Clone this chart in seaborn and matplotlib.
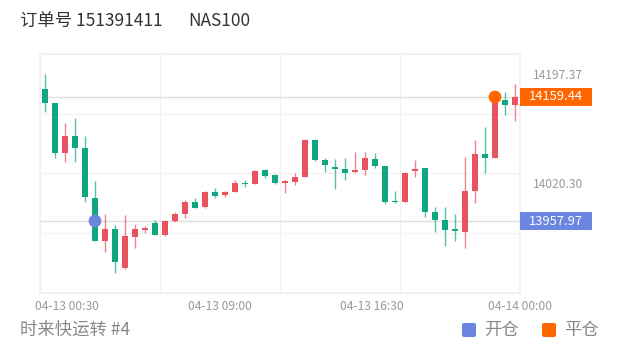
import numpy as np
import pandas as pd
import matplotlib
matplotlib.use("Agg")
import matplotlib.pyplot as plt
import matplotlib.transforms as mtransforms
from matplotlib.patches import Rectangle, FancyBboxPatch
import seaborn as sns

# candle data (30-min bars)
opens = [14172.4, 14149.7, 14068.5, 14096.1, 14076.6, 13995.3, 13925.5, 13944.9,
         13881.6, 13932.0, 13943.3, 13954.7, 13935.2, 13958.0, 13969.3, 13988.8,
         13980.7, 14005.1, 14000.2, 14005.1, 14019.7, 14018.1, 14040.8, 14032.7,
         14019.7, 14021.3, 14029.4, 14089.6, 14057.1, 14045.7, 14042.4, 14037.6,
         14040.8, 14058.7, 14047.3, 13990.4, 13988.8, 14039.2, 14044.1, 13972.6,
         13959.6, 13944.9, 13940.1, 14006.7, 14066.8, 14060.3, 14154.6, 14146.4]
highs = [14197.4, 14149.7, 14117.2, 14125.3, 14096.1, 14022.9, 13969.3, 13951.5,
         13967.7, 13953.1, 13949.8, 13959.6, 13959.6, 13972.6, 13992.1, 13995.3,
         14006.7, 14011.6, 14006.7, 14024.6, 14024.6, 14040.8, 14042.4, 14034.3,
         14024.6, 14035.9, 14091.2, 14091.2, 14060.3, 14058.7, 14060.3, 14070.1,
         14070.1, 14068.5, 14047.3, 14006.7, 14037.6, 14057.1, 14044.1, 13980.7,
         13980.7, 13969.3, 14062.0, 14089.6, 14110.7, 14159.4, 14167.6, 14180.6]
lows = [14135.1, 14060.3, 14053.8, 14053.8, 13988.8, 13925.5, 13907.6, 13873.5,
        13880.0, 13914.1, 13938.5, 13935.2, 13934.0, 13956.3, 13962.8, 13979.1,
        13979.1, 13995.3, 13996.9, 14005.1, 14013.2, 14018.1, 14027.8, 14018.1,
        14003.4, 14016.4, 14029.4, 14055.4, 14037.6, 14009.9, 14024.6, 14035.9,
        14032.7, 14044.1, 13985.6, 13987.2, 13988.8, 14029.4, 13964.4, 13940.1,
        13917.3, 13925.5, 13914.1, 13987.2, 14035.9, 14060.3, 14130.2, 14120.4]
closes = [14149.7, 14068.5, 14096.1, 14076.6, 13996.9, 13925.5, 13944.9, 13891.5,
          13933.6, 13944.9, 13946.6, 13935.2, 13958.0, 13969.3, 13988.8, 13979.1,
          14005.1, 13998.6, 14005.1, 14019.7, 14018.1, 14039.2, 14031.1, 14019.7,
          14022.9, 14029.4, 14089.6, 14057.1, 14048.9, 14042.4, 14035.9, 14040.8,
          14060.3, 14047.3, 13988.8, 13988.8, 14035.9, 14042.4, 13972.6, 13959.6,
          13943.3, 13941.7, 14006.7, 14066.8, 14060.3, 14159.44, 14146.4, 14159.44]

tick_pos = [2.2, 17.5, 32.7, 47.5]
tick_labels = ["04-13 00:30", "04-13 09:00", "04-13 16:30", "04-14 00:00"]
price_ticks = [14197.37, 14020.30]
grid_prices = [14131.8, 14035.9, 13938.5]

open_idx, open_price = 5, 13957.97
close_idx, close_price = 45, 14159.44

UP = "#e9525f"
DOWN = "#10a67f"
BLUE = "#6a86e0"
ORANGE = "#ff6600"

sns.set_theme(style="white")
plt.rcParams["font.family"] = ["Noto Sans CJK SC", "DejaVu Sans"]

df = pd.DataFrame({"open": opens, "high": highs, "low": lows, "close": closes})
df["idx"] = np.arange(len(df))
df["color"] = np.where(df["close"] >= df["open"], UP, DOWN)
df["bottom"] = df[["open", "close"]].min(axis=1)
df["height"] = (df["close"] - df["open"]).abs().clip(lower=1.8)

fig = plt.figure(figsize=(6.2, 3.52), dpi=100)
ax = fig.add_axes([40 / 620, 59 / 352, 480 / 620, 239 / 352])

# faint grid
for x in np.arange(-0.5, 48, 12):
    ax.axvline(x, color="#f2f2f2", lw=1, zorder=0)
for y in grid_prices:
    ax.axhline(y, color="#f2f2f2", lw=1, zorder=0)
for s in ax.spines.values():
    s.set_color("#f0f0f0")

# trade price lines
ax.axhline(open_price, color="#dddddd", lw=1, zorder=1)
ax.axhline(close_price, color="#dddddd", lw=1, zorder=1)

ax.vlines(df["idx"], df["low"], df["high"], colors=df["color"], lw=1, alpha=0.7, zorder=2)
ax.bar(df["idx"], df["height"], bottom=df["bottom"], width=0.62, color=df["color"],
       edgecolor="none", zorder=3)

marks = pd.DataFrame({"x": [open_idx, close_idx], "y": [open_price, close_price],
                      "kind": ["开仓", "平仓"]})
sns.scatterplot(data=marks, x="x", y="y", hue="kind", palette=[BLUE, ORANGE],
                s=85, edgecolor="none", legend=False, ax=ax, zorder=4)

ax.set_xlim(-0.5, 47.5)
ax.set_ylim(13841.0, 14229.3)
ax.set_xlabel("")
ax.set_ylabel("")
ax.set_xticks(tick_pos)
ax.set_xticklabels(tick_labels)
ax.yaxis.tick_right()
ax.set_yticks(price_ticks)
ax.set_yticklabels([f"{p:.2f}" for p in price_ticks])
ax.tick_params(axis="both", length=0, colors="#999999", labelsize=8.7)
ax.tick_params(axis="y", pad=9)
ax.tick_params(axis="x", pad=5)

# price tags on the right
tr = mtransforms.blended_transform_factory(ax.transAxes, ax.transData)
px = (ax.get_ylim()[1] - ax.get_ylim()[0]) / 239.0
for price, col in [(close_price, ORANGE), (open_price, BLUE)]:
    ax.add_patch(Rectangle((1.0, price - 9 * px), 72 / 480, 18 * px, transform=tr,
                           facecolor=col, edgecolor="none", clip_on=False, zorder=5))
    ax.text(1.0 + 36 / 480, price, f"{price:.2f}", transform=tr, ha="center",
            va="center", color="white", fontsize=9.3, zorder=6)

fig.text(20 / 620, 1 - 21 / 352, "订单号 151391411", ha="left", va="center",
         fontsize=12.5, color="#333333")
fig.text(188 / 620, 1 - 21 / 352, "NAS100", ha="left", va="center",
         fontsize=12.5, color="#333333")
fig.text(20 / 620, 1 - 330 / 352, "时来快运转 #4", ha="left", va="center",
         fontsize=12.5, color="#888888")

for x0, col, lab in [(462, BLUE, "开仓"), (542, ORANGE, "平仓")]:
    fig.patches.append(FancyBboxPatch((x0 / 620, 1 - 337 / 352), 14 / 620, 14 / 352,
                                      boxstyle="round,pad=0,rounding_size=0.004",
                                      transform=fig.transFigure, facecolor=col,
                                      edgecolor="none"))
    fig.text((x0 + 22) / 620, 1 - 330 / 352, lab, ha="left", va="center",
             fontsize=12.5, color="#888888")

fig.savefig("out.png", dpi=100)
